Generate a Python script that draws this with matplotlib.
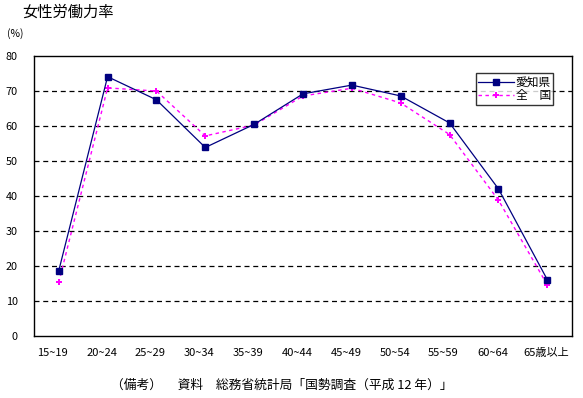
import matplotlib
matplotlib.use("Agg")
import matplotlib.pyplot as plt
import matplotlib.transforms as mtransforms

plt.rcParams['font.family'] = ['Noto Sans CJK JP', 'DejaVu Sans']

categories = ["15~19", "20~24", "25~29", "30~34", "35~39", "40~44",
              "45~49", "50~54", "55~59", "60~64", "65歳以上"]
aichi = [18.7, 74.1, 67.5, 53.9, 60.5, 69.2, 71.7, 68.6, 60.9, 42.1, 16.2]
zenkoku = [15.4, 70.9, 70.0, 57.2, 60.3, 68.6, 70.8, 66.6, 57.6, 38.9, 14.7]
yticks = [0, 10, 20, 30, 40, 50, 60, 70, 80]

fig = plt.figure(figsize=(5.83, 3.98), dpi=100)
ax = fig.add_axes([34.3 / 583, 1 - 336.4 / 398, (571.7 - 34.3) / 583, (336.4 - 56) / 398])

x = [i + 0.5 for i in range(len(categories))]
ax.plot(x, aichi, color="#000080", lw=0.9, marker="s", ms=4.2,
        mfc="#000080", mec="#000080", label="愛知県", zorder=4)
ax.plot(x, zenkoku, color="#FF00FF", lw=1.0, ls=(0, (2.5, 2.5)), marker="P", ms=4,
        mfc="#FF00FF", mec="#FF00FF", mew=0, label="全　国", zorder=3)

ax.set_xlim(0, len(categories))
ax.set_ylim(0, 80)
ax.set_yticks(yticks)
ax.set_yticklabels([str(v) for v in yticks], fontsize=7.8)
ax.set_xticks(x)
ax.set_xticklabels(categories, fontsize=8)
ax.tick_params(axis="both", length=0)
ax.tick_params(axis="y", pad=12)
ax.tick_params(axis="x", pad=8)
for i, lab in enumerate(ax.get_xticklabels()):
    dx = -6 if i < len(categories) - 1 else -1
    lab.set_transform(lab.get_transform() + mtransforms.ScaledTranslation(dx / 100, 0, fig.dpi_scale_trans))

for v in yticks[1:-1]:
    ax.axhline(v, color="black", lw=0.9, ls=(0, (4, 3)), zorder=1)

for s in ax.spines.values():
    s.set_linewidth(1.0)
    s.set_color("black")

leg = ax.legend(loc="upper left", bbox_to_anchor=((476 - 34.3) / 537.4, (336.4 - 73.3) / 280.4),
                fontsize=8.5, frameon=True, fancybox=False, edgecolor="black",
                handlelength=3.0, handletextpad=0.15, borderpad=0.2, labelspacing=0.05,
                borderaxespad=0)
leg.get_frame().set_linewidth(1.0)

fig.text(22 / 583, 1 - 12 / 398, "女性労働力率", fontsize=11, va="center", ha="left")
fig.text(7 / 583, 1 - 34 / 398, "(%)", fontsize=7.5, va="center", ha="left")
fig.text(282 / 583, 1 - 385 / 398, "（備考）　 資料　総務省統計局「国勢調査（平成 12 年）」",
         fontsize=9.2, va="center", ha="center")

fig.savefig("out.png", dpi=100)
